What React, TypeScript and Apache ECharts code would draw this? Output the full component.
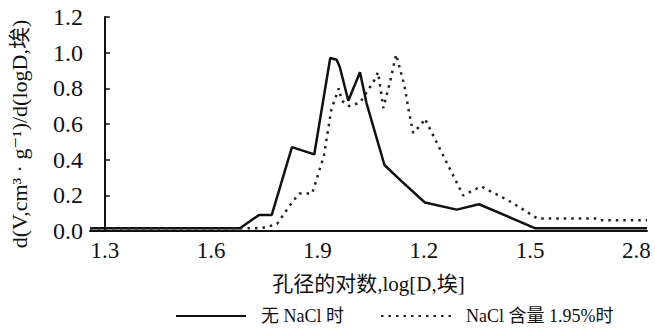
import React, { useEffect, useRef } from "react";
import * as echarts from "echarts";

const tickLabels = ["1.3", "1.6", "1.9", "1.2", "1.5", "2.8"];
const seriesNames = ["无 NaCl 时", "NaCl 含量 1.95%时"];

// x in tick-index units (0 = "1.3", 1 = "1.6", ...)
const noNaClX = [-0.14, 1.27, 1.45, 1.57, 1.76, 1.97, 2.12, 2.18, 2.21, 2.29, 2.4, 2.46, 2.63, 2.79, 3.01, 3.31, 3.52, 4.05, 5.1];
const noNaClY = [0.015, 0.015, 0.09, 0.09, 0.47, 0.43, 0.97, 0.96, 0.92, 0.73, 0.89, 0.72, 0.37, 0.28, 0.16, 0.12, 0.15, 0.015, 0.015];

const naclX = [-0.14, 1.4, 1.51, 1.62, 1.69, 1.76, 1.83, 1.95, 2.06, 2.13, 2.2, 2.23, 2.3, 2.4, 2.53, 2.57, 2.62, 2.68, 2.74, 2.82, 2.86, 2.9, 2.98, 3.01, 3.16, 3.37, 3.54, 3.8, 4.07, 4.62, 4.65, 5.1];
const naclY = [0.015, 0.015, 0.02, 0.04, 0.1, 0.16, 0.21, 0.21, 0.42, 0.68, 0.8, 0.73, 0.7, 0.72, 0.84, 0.89, 0.69, 0.83, 0.99, 0.81, 0.67, 0.55, 0.6, 0.63, 0.45, 0.2, 0.25, 0.17, 0.07, 0.07, 0.06, 0.06];

const yTicks = { min: 0, max: 1.2, interval: 0.2 };
const xRange = { min: -0.14, max: 5.1 };

const serif = "'Liberation Serif', 'DejaVu Serif', 'Noto Sans CJK SC', serif";

export default function App() {
  const ref = useRef<HTMLDivElement>(null);
  useEffect(() => {
    if (!ref.current) return;
    const chart = echarts.init(ref.current, undefined, { renderer: "svg" });
    const pair = (xs: number[], ys: number[]) => xs.map((x, i) => [x, ys[i]]);
    chart.setOption({
      animation: false,
      backgroundColor: "#fff",
      grid: { left: 87, right: 8, top: 17, bottom: 99 },
      legend: {
        left: 170,
        top: 302,
        itemWidth: 70,
        itemHeight: 10,
        itemGap: 36,
        itemStyle: { opacity: 0 },
        textStyle: { fontFamily: serif, fontSize: 18, color: "#111", padding: [0, 0, 0, 10] },
        data: seriesNames,
      },
      xAxis: {
        type: "value",
        min: xRange.min,
        max: xRange.max,
        name: "孔径的对数,log[D,埃]",
        nameLocation: "middle",
        nameGap: 42,
        nameTextStyle: { fontFamily: serif, fontSize: 21, color: "#111" },
        splitLine: { show: false },
        axisTick: { show: false },
        axisLine: { lineStyle: { color: "#111", width: 2 } },
        axisLabel: {
          customValues: [0, 1, 2, 3, 4, 5],
          formatter: (v: number) => tickLabels[Math.round(v)] ?? "",
          fontFamily: serif,
          fontSize: 23,
          color: "#111",
          margin: 8,
        },
      },
      yAxis: {
        type: "value",
        min: yTicks.min,
        max: yTicks.max,
        interval: yTicks.interval,
        name: "d(V,cm³ · g⁻¹)/d(logD,埃)",
        nameLocation: "middle",
        nameRotate: 90,
        nameGap: 60,
        nameTextStyle: { fontFamily: serif, fontSize: 22, color: "#111", padding: [0, 20, 0, 0] },
        splitLine: { show: false },
        axisLine: { show: true, lineStyle: { color: "#111", width: 2 } },
        axisTick: { show: true, inside: true, length: 5, lineStyle: { color: "#111", width: 1.5 } },
        axisLabel: {
          formatter: (v: number) => v.toFixed(1),
          fontFamily: serif,
          fontSize: 24,
          color: "#111",
          margin: 7,
        },
      },
      series: [
        {
          name: seriesNames[0],
          type: "line",
          data: pair(noNaClX, noNaClY),
          symbol: "none",
          lineStyle: { color: "#111", width: 2.5, type: "solid" },
          itemStyle: { color: "#111" },
        },
        {
          name: seriesNames[1],
          type: "line",
          data: pair(naclX, naclY),
          symbol: "none",
          lineStyle: { color: "#222", width: 2.5, type: [2.5, 5] },
          itemStyle: { color: "#222" },
        },
      ],
    });
    return () => chart.dispose();
  }, []);
  return <div ref={ref} style={{ width: 655, height: 330, position: "absolute", left: 0, top: 0 }} />;
}
